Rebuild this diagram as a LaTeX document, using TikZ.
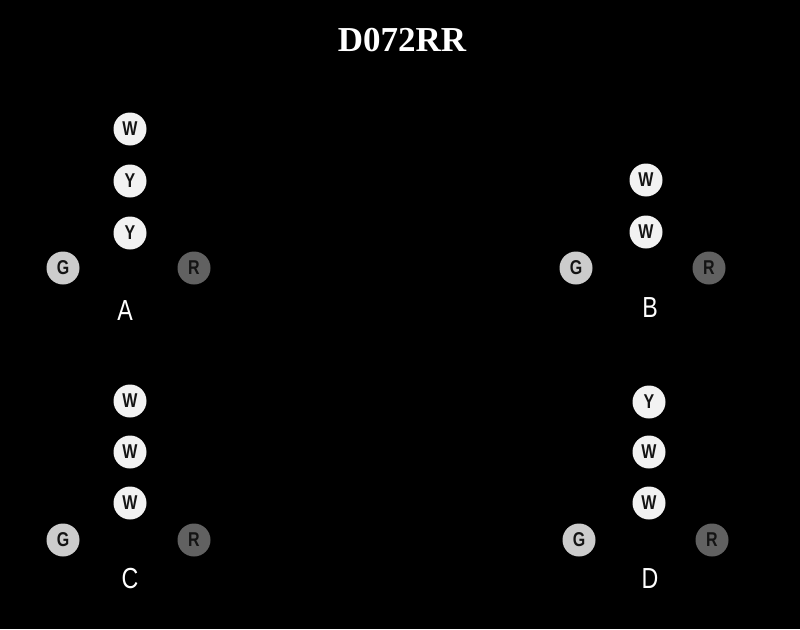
\documentclass[tikz,border=0pt]{standalone}
\usepackage{fontspec}
\setmainfont{Liberation Serif}
\setsansfont{Liberation Sans}
\usepackage{graphicx}
\definecolor{wfill}{gray}{0.95}
\definecolor{gfill}{gray}{0.80}
\definecolor{rfill}{gray}{0.38}
\definecolor{ink}{gray}{0.08}
\tikzset{
  lamp/.style={circle, minimum size=33pt, inner sep=0pt, fill=wfill, text=ink,
    font=\sffamily\bfseries\fontsize{20}{20}\selectfont},
  glamp/.style={lamp, fill=gfill},
  rlamp/.style={lamp, fill=rfill},
  lbl/.style={text=white, inner sep=0pt, font=\sffamily\fontsize{29}{29}\selectfont},
  ttl/.style={text=white, inner sep=0pt, font=\rmfamily\bfseries\fontsize{35}{35}\selectfont}
}
\newcommand{\narrow}[1]{\scalebox{0.8}[1]{#1}}
\begin{document}
\begin{tikzpicture}[x=1pt,y=-1pt]
\fill[black] (0,0) rectangle (800,629);
\useasboundingbox (0,0) rectangle (800,629);
\node[ttl] (title) at (402,40) {D072RR};
% A
\node[lamp] (a1) at (130,129) {\narrow{W}};
\node[lamp] (a2) at (130,181) {\narrow{Y}};
\node[lamp] (a3) at (130,233) {\narrow{Y}};
\node[glamp] (ag) at (63,268) {\narrow{G}};
\node[rlamp] (ar) at (194,268) {\narrow{R}};
\node[lbl] (al) at (125,311) {\narrow{A}};
% B
\node[lamp] (b1) at (646,180) {\narrow{W}};
\node[lamp] (b2) at (646,232) {\narrow{W}};
\node[glamp] (bg) at (576,268) {\narrow{G}};
\node[rlamp] (br) at (709,268) {\narrow{R}};
\node[lbl] (bl) at (650,308) {\narrow{B}};
% C
\node[lamp] (c1) at (130,401) {\narrow{W}};
\node[lamp] (c2) at (130,452) {\narrow{W}};
\node[lamp] (c3) at (130,503) {\narrow{W}};
\node[glamp] (cg) at (63,540) {\narrow{G}};
\node[rlamp] (cr) at (194,540) {\narrow{R}};
\node[lbl] (cl) at (130,579) {\narrow{C}};
% D
\node[lamp] (d1) at (649,402) {\narrow{Y}};
\node[lamp] (d2) at (649,452) {\narrow{W}};
\node[lamp] (d3) at (649,503) {\narrow{W}};
\node[glamp] (dg) at (579,540) {\narrow{G}};
\node[rlamp] (dr) at (712,540) {\narrow{R}};
\node[lbl] (dl) at (650,579) {\narrow{D}};
\end{tikzpicture}
\end{document}
